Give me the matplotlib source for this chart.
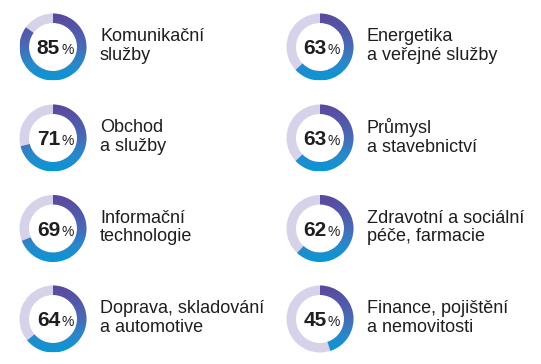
import numpy as np
import matplotlib
matplotlib.use("Agg")
import matplotlib.pyplot as plt
from matplotlib.patches import Wedge
from matplotlib.colors import LinearSegmentedColormap

labels_left = ["Komunikační\nslužby", "Obchod\na služby", "Informační\ntechnologie", "Doprava, skladování\na automotive"]
values_left = [85, 71, 69, 64]
labels_right = ["Energetika\na veřejné služby", "Průmysl\na stavebnictví", "Zdravotní a sociální\npéče, farmacie", "Finance, pojištění\na nemovitosti"]
values_right = [63, 63, 62, 45]

W, H = 541, 364
fig = plt.figure(figsize=(W / 100, H / 100), dpi=100)
ax = fig.add_axes([0, 0, 1, 1])
ax.set_xlim(0, W)
ax.set_ylim(0, H)
ax.set_aspect("equal")
ax.axis("off")

cmap = LinearSegmentedColormap.from_list(
    "g", [(0.0, "#0898d6"), (0.25, "#2a88c9"), (0.55, "#4c66b2"), (1.0, "#5a479c")])
track = "#d6d2e9"
txt = "#1e1e1e"
font = "Liberation Sans"

R = 33.5
RW = 9.5
col_x = [53, 320]
row_y = [47, 138, 228.5, 319]

def donut(cx, cy_img, val, label):
    cy = H - cy_img
    ax.add_patch(Wedge((cx, cy), R, 0, 360, width=RW, facecolor=track, edgecolor="none", zorder=1))
    w = Wedge((cx, cy), R, 90 - 360 * val / 100, 90, width=RW, facecolor="none", edgecolor="none", zorder=1)
    ax.add_patch(w)
    grad = np.linspace(0, 1, 256).reshape(-1, 1)
    im = ax.imshow(grad, cmap=cmap, origin="lower", aspect="auto",
                   extent=[cx - R, cx + R, cy - R, cy + R], interpolation="bilinear", zorder=2)
    im.set_clip_path(w)
    ax.text(cx + 7, cy - 7, str(val), ha="right", va="baseline", fontsize=15,
            fontweight="bold", color=txt, family=font, zorder=3)
    ax.text(cx + 8, cy - 7, "%", ha="left", va="baseline", fontsize=10,
            color=txt, family=font, zorder=3)
    ax.text(cx + 47, cy + 1, label, ha="left", va="center", fontsize=13,
            color=txt, family=font, linespacing=1.12, zorder=3)

for i in range(4):
    donut(col_x[0], row_y[i], values_left[i], labels_left[i])
    donut(col_x[1], row_y[i], values_right[i], labels_right[i])

ax.set_xlim(0, W)
ax.set_ylim(0, H)
fig.savefig("out.png", dpi=100)
